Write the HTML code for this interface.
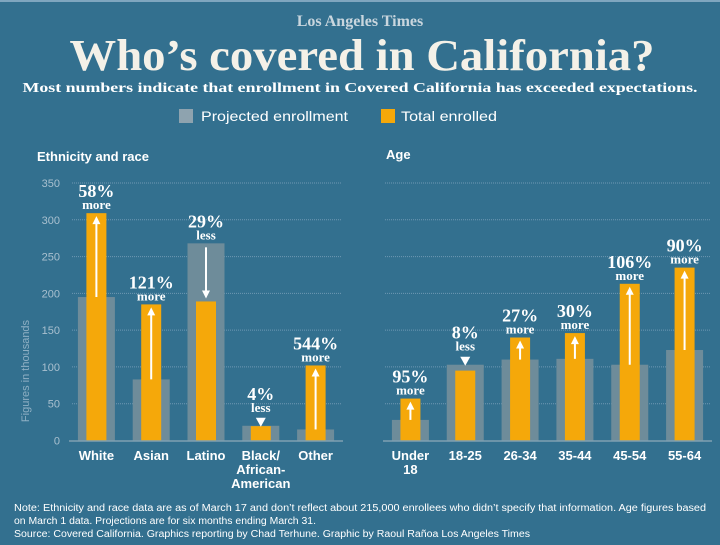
<!DOCTYPE html>
<html><head><meta charset="utf-8"><style>
html,body{margin:0;padding:0;background:#33708f;}
svg{display:block;}
text{font-family:"Liberation Sans",sans-serif;}
.serif{font-family:"Liberation Serif",serif;font-weight:bold;}
</style></head><body>
<svg id="chart" width="720" height="545" viewBox="0 0 720 545">
<rect width="720" height="545" fill="#33708f"/>
<rect width="720" height="2" fill="#7fa6bf"/>
<text x="360" y="26" text-anchor="middle" class="serif" font-size="16" fill="#c9d6de">Los Angeles Times</text>
<text x="362" y="70" text-anchor="middle" class="serif" font-size="44" fill="#f4f1e8" textLength="585" lengthAdjust="spacingAndGlyphs">Who’s covered in California?</text>
<text x="360" y="92" text-anchor="middle" class="serif" font-size="14" fill="#ffffff" textLength="675" lengthAdjust="spacingAndGlyphs">Most numbers indicate that enrollment in Covered California has exceeded expectations.</text>
<g>
<rect x="179" y="109" width="14" height="14" fill="#8ea3af"/>
<text x="201" y="121" font-size="14" fill="#fff" textLength="147" lengthAdjust="spacingAndGlyphs">Projected enrollment</text>
<rect x="381" y="109" width="14" height="14" fill="#f5a80a"/>
<text x="401" y="121" font-size="14" fill="#fff" textLength="96" lengthAdjust="spacingAndGlyphs">Total enrolled</text>
</g>
<text x="37" y="161" font-size="13" font-weight="bold" fill="#fff">Ethnicity and race</text>
<text x="386" y="159" font-size="13" font-weight="bold" fill="#fff">Age</text>
<text transform="translate(29,371) rotate(-90)" text-anchor="middle" font-size="11" fill="#8fb0c4">Figures in thousands</text>
<g id="plot"></g>
<text x="14" y="511" font-size="10" fill="#fff" textLength="692" lengthAdjust="spacingAndGlyphs">Note: Ethnicity and race data are as of March 17 and don’t reflect about 215,000 enrollees who didn’t specify that information. Age figures based</text>
<text x="14" y="524" font-size="10" fill="#fff" textLength="302" lengthAdjust="spacingAndGlyphs">on March 1 data. Projections are for six months ending March 31.</text>
<text x="14" y="537" font-size="10" fill="#fff" textLength="516" lengthAdjust="spacingAndGlyphs">Source: Covered California. Graphics reporting by Chad Terhune. Graphic by Raoul Rañoa Los Angeles Times</text>
</svg>
<script>
const ethCategories=["White","Asian","Latino","Black/|African-|American","Other"];
const ethProjected=[195,83,268,20,15];
const ethTotal=[309,185,189,19.5,102];
const ethPct=["58%","121%","29%","4%","544%"];
const ethWord=["more","more","less","less","more"];
const ageCategories=["Under|18","18-25","26-34","35-44","45-54","55-64"];
const ageProjected=[28,103,110,111,103,123];
const ageTotal=[57,95,140,146,213,235];
const agePct=["95%","8%","27%","30%","106%","90%"];
const ageWord=["more","less","more","more","more","more"];
const yTicks=[0,50,100,150,200,250,300,350];

const NS="http://www.w3.org/2000/svg";
const plot=document.getElementById('plot');
const y0=440.5, ppu=257.5/350;
function yScale(v){return y0-v*ppu;}
function mk(tag,attrs,parent){const e=document.createElementNS(NS,tag);for(const k in attrs)e.setAttribute(k,attrs[k]);(parent||plot).appendChild(e);return e;}

yTicks.forEach(t=>{
  if(t>0){
    const g1=mk('line',{x1:72,x2:342,y1:yScale(t),y2:yScale(t),stroke:'#6f98b3','stroke-width':1,'stroke-dasharray':'1,1'});
    
    
    const g2=mk('line',{x1:385,x2:710,y1:yScale(t),y2:yScale(t),stroke:'#6f98b3','stroke-width':1,'stroke-dasharray':'1,1'});
    
    
  }
  const tl=mk('text',{x:60,y:yScale(t)+4,'text-anchor':'end','font-size':11,fill:'#a9c0cf'});
  tl.textContent=t;
  
  
});

function panel(cats,proj,tot,pct,word,x0,x1,prefix){
  const n=cats.length, step=(x1-x0)/n;
  cats.forEach((c,i)=>{
    const cx=x0+step*(i+0.5);
    const gp=mk('rect',{x:cx-18.5,y:yScale(proj[i]),width:37,height:y0-yScale(proj[i]),fill:'#6e8c9a'});
    
    
    const ob=mk('rect',{x:cx-10,y:yScale(tot[i]),width:20,height:y0-yScale(tot[i]),fill:'#f5a80a'});
    
    
    const ya=yScale(proj[i]), yb=yScale(tot[i]);
    const up=yb<ya;
    const ar=mk('g',{});
    
    
    let top=Math.min(ya,yb);
    if(Math.abs(ya-yb)<15){
      // small change: arrowhead above bars
      const tip=top+1;
      mk('polygon',{points:`${cx-5},${tip-9} ${cx+5},${tip-9} ${cx},${tip}`,fill:'#fff'},ar);
      top-=10;
    } else if(up){
      mk('line',{x1:cx,x2:cx,y1:ya,y2:yb+8,stroke:'#fff','stroke-width':2},ar);
      mk('polygon',{points:`${cx-4},${yb+11} ${cx+4},${yb+11} ${cx},${yb+3}`,fill:'#fff'},ar);
    } else {
      mk('line',{x1:cx,x2:cx,y1:ya+4,y2:yb-8,stroke:'#fff','stroke-width':2},ar);
      mk('polygon',{points:`${cx-4},${yb-11} ${cx+4},${yb-11} ${cx},${yb-3}`,fill:'#fff'},ar);
    }
    if(!up && Math.abs(ya-yb)>=15) top=ya;
    const lw=mk('text',{x:cx,y:top-4,'text-anchor':'middle','font-size':13,fill:'#fff',class:'serif'});
    lw.textContent=word[i];
    
    
    const lp=mk('text',{x:cx,y:top-16,'text-anchor':'middle','font-size':18,fill:'#fff',class:'serif'});
    lp.textContent=pct[i];
    
    
    c.split('|').forEach((ln,j)=>{
      const cl=mk('text',{x:cx,y:460+j*14,'text-anchor':'middle','font-size':13,'font-weight':'bold',fill:'#fff'});
      cl.textContent=ln;
      
      
    });
  });
  const ax=mk('line',{x1:x0,x2:x1,y1:y0+0.5,y2:y0+0.5,stroke:'#7fa0b2','stroke-width':1.5});
  
  
}
panel(ethCategories,ethProjected,ethTotal,ethPct,ethWord,69,343,'ethnicity');
panel(ageCategories,ageProjected,ageTotal,agePct,ageWord,383,712,'age');
</script>
</body></html>
